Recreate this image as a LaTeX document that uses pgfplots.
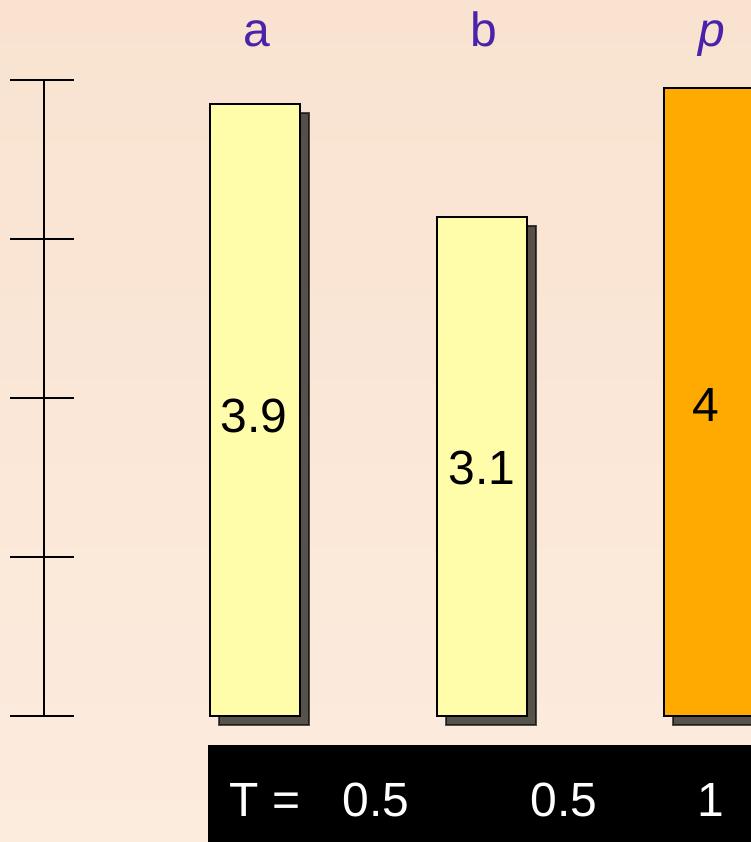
\documentclass[border=0pt]{standalone}
\usepackage{pgfplots}
\pgfplotsset{compat=1.18}
\usepackage{fontspec}
\setmainfont{Liberation Sans}
\usetikzlibrary{shadows}
\definecolor{bgtop}{RGB}{249,226,208}
\definecolor{bgbot}{RGB}{252,236,222}
\definecolor{barY}{RGB}{255,252,170}
\definecolor{barO}{RGB}{255,170,0}
\definecolor{lblP}{RGB}{75,35,170}
\newcommand{\bigfont}{\fontsize{48bp}{58bp}\selectfont}
\begin{document}
\begin{tikzpicture}
\shade[top color=bgtop, bottom color=bgbot] (0,0) rectangle (751bp,842bp);
\begin{axis}[
  at={(0,0)}, anchor=south west,
  scale only axis, width=751bp, height=842bp,
  xmin=0, xmax=751, ymin=-0.7925, ymax=4.5031,
  axis lines=none, ticks=none,
  clip=true,
]
% y scale (0..4)
\draw[line width=2bp] (axis cs:44,0) -- (axis cs:44,4);
\draw[line width=2bp] (axis cs:10,0) -- (axis cs:74,0);
\draw[line width=2bp] (axis cs:10,1) -- (axis cs:74,1);
\draw[line width=2bp] (axis cs:10,2) -- (axis cs:74,2);
\draw[line width=2bp] (axis cs:10,3) -- (axis cs:74,3);
\draw[line width=2bp] (axis cs:10,4) -- (axis cs:74,4);
% bars
\addplot[ybar, bar width=90, fill=barY, draw=black, line width=1.8bp,
  drop shadow={shadow xshift=9bp, shadow yshift=-9bp, fill=black, opacity=0.65}]
  coordinates {(255,3.85) (482,3.14)};
\addplot[ybar, bar width=90, fill=barO, draw=black, line width=1.8bp,
  drop shadow={shadow xshift=9bp, shadow yshift=-9bp, fill=black, opacity=0.65}]
  coordinates {(709,3.95)};
% value labels
\node[anchor=base, font=\bigfont] at (axis cs:254,1.784) {3.9};
\node[anchor=base, font=\bigfont] at (axis cs:482,1.453) {3.1};
\node[anchor=base, font=\bigfont] at (axis cs:706,1.850) {4};
% category labels
\node[anchor=base, font=\bigfont, text=lblP] at (axis cs:257,4.2075) {a};
\node[anchor=base, font=\bigfont, text=lblP] at (axis cs:484,4.2075) {b};
\node[anchor=base, font=\bigfont\itshape, text=lblP] at (axis cs:712,4.2075) {p};
% T row
\fill[black] (axis cs:208,-0.182) rectangle (axis cs:770,-0.80);
\node[anchor=base west, font=\bigfont, text=white] at (axis cs:226,-0.635) {T =};
\node[anchor=base, font=\bigfont, text=white] at (axis cs:376,-0.635) {0.5};
\node[anchor=base, font=\bigfont, text=white] at (axis cs:564,-0.635) {0.5};
\node[anchor=base, font=\bigfont, text=white] at (axis cs:711,-0.635) {1};
\end{axis}
\end{tikzpicture}
\end{document}
